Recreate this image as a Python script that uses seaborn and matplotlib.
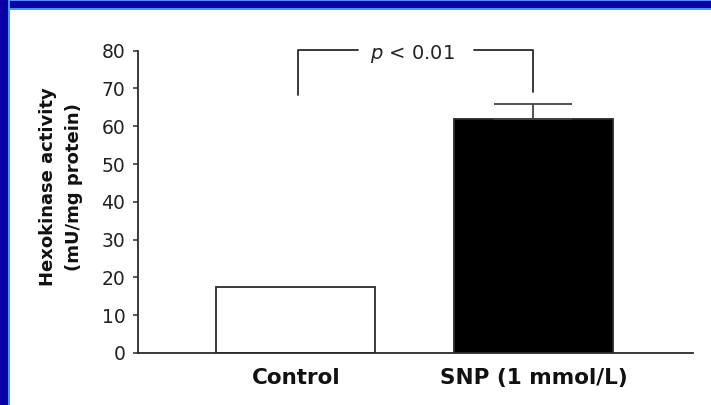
import matplotlib
matplotlib.use("Agg")
import matplotlib.pyplot as plt
import pandas as pd
import seaborn as sns
from matplotlib.patches import Rectangle

# Hexokinase activity per group (mean and upper SEM)
groups = ["Control", "SNP (1 mmol/L)"]
activity = [17.5, 62.0]
sem = [0.0, 3.8]
bar_colors = ["white", "black"]
yticks = [0, 10, 20, 30, 40, 50, 60, 70, 80]
p_label = "p < 0.01"

sns.set_theme(style="ticks")
plt.rcParams["font.family"] = ["DejaVu Sans"]

ink = "#2a2a2a"
fig = plt.figure(figsize=(7.11, 4.05), dpi=100)
fig.patch.set_facecolor("white")

# slide frame: dark blue band with light blue edges
W, H = 711.0, 405.0
def frame(x, y, w, h, c):
    fig.patches.append(Rectangle((x / W, 1 - (y + h) / H), w / W, h / H,
                                 transform=fig.transFigure, color=c, lw=0, zorder=0))
frame(0, 0, W, 9.5, "#3d9bff")
frame(0, 1.5, W, 6.0, "#0a00a6")
frame(0, 0, 10, H, "#3d9bff")
frame(0, 0, 8, H, "#0a00a6")

ax = fig.add_axes([138 / W, 1 - 353 / H, 555 / W, (353 - 50.7) / H])
df = pd.DataFrame({"group": groups, "activity": activity})
sns.barplot(data=df, x="group", y="activity", hue="group", palette=bar_colors,
            legend=False, width=0.67, saturation=1, errorbar=None,
            edgecolor=ink, linewidth=1.3, ax=ax)

for i, (m, s) in enumerate(zip(activity, sem)):
    if s > 0:
        ax.errorbar(i, m, yerr=[[0], [s]], fmt="none", ecolor="#444444",
                    elinewidth=1.3, capsize=28, capthick=1.3, zorder=1)

ax.set_xlim(-0.665, 1.672)
ax.set_ylim(0, 80)
ax.set_yticks(yticks)
ax.set_xlabel("")
ax.set_ylabel("Hexokinase activity\n(mU/mg protein)", fontsize=13,
              fontweight="bold", color="#111111", linespacing=1.6)
ax.yaxis.set_label_coords(-0.099, 0.55)

sns.despine(ax=ax)
ax.spines["left"].set_bounds(0, 80)
for side in ("left", "bottom"):
    ax.spines[side].set_color(ink)
    ax.spines[side].set_linewidth(1.3)

ax.tick_params(axis="y", length=3.6, width=1.1, pad=5.5, labelsize=13.5,
               color=ink, labelcolor="#222222")
ax.tick_params(axis="x", length=0, pad=10.5, labelsize=15.5, labelcolor="#111111")
for lab in ax.get_xticklabels():
    lab.set_fontweight("bold")

# significance bracket between the two bars
top = 80.2
ax.plot([0.01, 0.01, 0.26], [68.3, top, top], color=ink, lw=1.3, clip_on=False)
ax.plot([0.75, 1.0, 1.0], [top, top, 69.0], color=ink, lw=1.3, clip_on=False)
ax.text(0.49, 79.0, r"$\it{p}$ < 0.01", ha="center", va="center",
        fontsize=14, color="#222222", clip_on=False)

fig.savefig("out.png", dpi=100, facecolor="white")
